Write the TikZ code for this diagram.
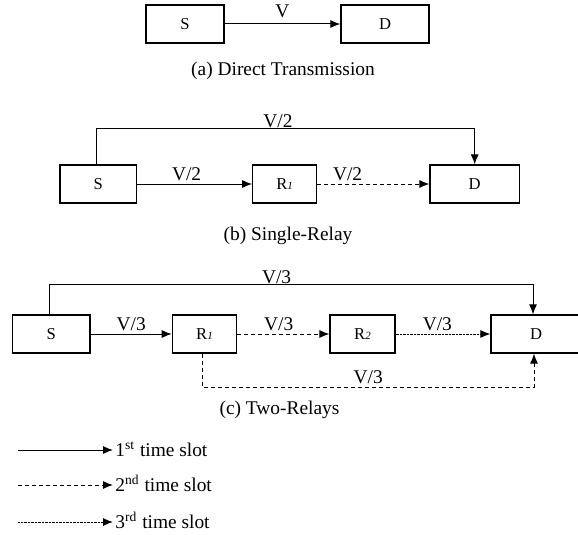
\documentclass[tikz,border=0pt]{standalone}
\usepackage{fontspec}
\setmainfont{Liberation Serif}
\usetikzlibrary{arrows.meta}

\tikzset{
  blk/.style={draw, line width=0.6pt, inner sep=0pt, minimum height=19pt, font=\fontsize{8.3}{9}\selectfont},
  conn/.style={line width=0.5pt, -{Latex[length=5pt,width=4pt]}},
  slot2/.style={conn, dash pattern=on 2pt off 1.5pt},
  slot3/.style={conn, dash pattern=on 0.3pt off 0.4pt},
  lbl/.style={font=\fontsize{9.7}{11}\selectfont, inner sep=1.5pt},
  captxt/.style={font=\fontsize{9.7}{11}\selectfont},
}
\newcommand{\relay}[1]{R{\fontsize{5.5}{6}\selectfont\itshape #1}}

\begin{document}
\begin{tikzpicture}[x=0.5pt,y=-0.5pt]
\useasboundingbox (0,0) rectangle (578,535);

% (a) direct
\node[blk,minimum width=39pt] (Sa) at (185,24) {S};
\node[blk,minimum width=44pt] (Da) at (385,24) {D};
\draw[conn] (Sa) -- (Da) node[lbl,midway,above,inner sep=3pt]{V};
\node[captxt] (capa) at (283,71) {(a) Direct Transmission};

% (b) one relay
\node[blk,minimum width=38.3pt] (Sb) at (98.3,184) {S};
\node[blk,minimum width=32pt] (R1b) at (284.7,184) {\relay{1}};
\node[blk,minimum width=44.7pt] (Db) at (474.7,184) {D};
\draw[conn] (Sb) -- (R1b) node[lbl,pos=0.43,above]{V/2};
\draw[slot2] (R1b) -- (Db) node[lbl,pos=0.27,above]{V/2};
\draw[conn] ([xshift=-1pt]Sb.north) -- ++(0,-36) -| (Db.north) node[lbl,pos=0.24,above,inner sep=0.3pt]{V/2};
\node[captxt] (capb) at (288,236) {(b) Single-Relay};

% (c) two relays
\node[blk,minimum width=38.7pt] (Sc) at (51.3,334) {S};
\node[blk,minimum width=32.2pt] (R1c) at (204.5,334) {\relay{1}};
\node[blk,minimum width=32.5pt] (R2c) at (362.5,334) {\relay{2}};
\node[blk,minimum width=45pt] (Dc) at (536,334) {D};
\draw[conn] (Sc) -- (R1c) node[lbl,midway,above]{V/3};
\draw[slot2] (R1c) -- (R2c) node[lbl,pos=0.45,above]{V/3};
\draw[slot3] (R2c) -- (Dc) node[lbl,pos=0.44,above]{V/3};
\draw[conn] ([xshift=-1pt]Sc.north) -- ++(0,-30) -| ([xshift=-1.5pt]Dc.north) node[lbl,pos=0.235,above,inner sep=0.3pt]{V/3};
\draw[slot2] ([xshift=-1pt]R1c.south) -- ++(0,33.5) -| ([xshift=-1pt]Dc.south) node[lbl,pos=0.25,above]{V/3};
\node[captxt] (capc) at (279.5,410) {(c) Two-Relays};

% legend
\coordinate (l1) at (18,450);
\coordinate (l2) at (18,485);
\coordinate (l3) at (18,522);
\node[captxt,anchor=base west,inner sep=1pt] (k1) at (113,456.5) {1\textsuperscript{st} time slot};
\node[captxt,anchor=base west,inner sep=1pt] (k2) at (113,491.5) {2\textsuperscript{nd} time slot};
\node[captxt,anchor=base west,inner sep=1pt] (k3) at (113,528.5) {3\textsuperscript{rd} time slot};
\draw[conn] (l1) -- (l1 -| k1.west);
\draw[slot2] (l2) -- (l2 -| k2.west);
\draw[slot3] (l3) -- (l3 -| k3.west);

\end{tikzpicture}
\end{document}
